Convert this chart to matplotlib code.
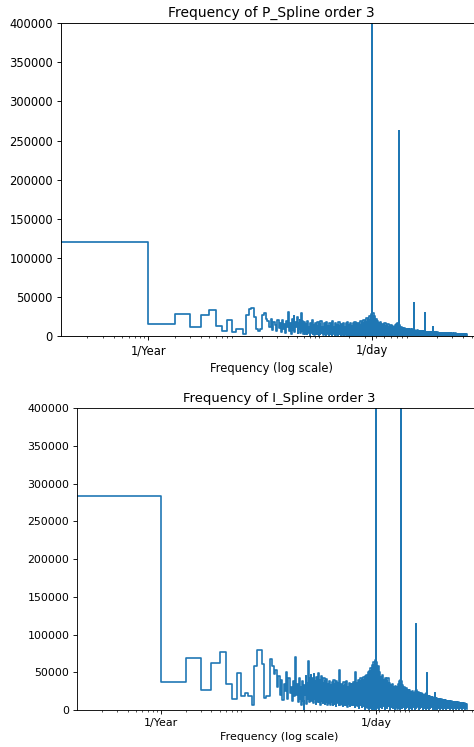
import matplotlib
matplotlib.use("Agg")
import matplotlib.pyplot as plt

# low frequency bins (cycles per year), one value per FFT bin
low_freq = list(range(0, 62))

p_low = [120000, 120000, 15000, 28000, 11000, 27000, 33500, 12800, 6000, 21000,
         4700, 9000, 9000, 2500, 27000, 34500, 36000, 24700, 9000, 7000,
         9000, 27000, 29000, 22000, 19000, 12000, 22000, 8000, 18000, 14000,
         6000, 20000, 10000, 16000, 5500, 21000, 9000, 15000, 4000, 19000,
         11000, 31000, 7000, 17000, 3000, 22000, 8000, 25000, 5000, 18000,
         12000, 24000, 3500, 16000, 9000, 21000, 4000, 30000, 6000, 19000,
         3000, 17000]

i_low = [284000, 284000, 37500, 68500, 26500, 63000, 76500, 35000, 14000, 48600,
         18500, 22000, 18000, 6600, 58000, 79000, 80000, 61000, 15500, 18500,
         18500, 67000, 58000, 48000, 53000, 30000, 45000, 20000, 40000, 13000,
         35000, 25000, 50000, 15000, 42000, 22000, 30000, 12000, 38000, 18000,
         45000, 70700, 20000, 35000, 10000, 42000, 15000, 30000, 6000, 38000,
         12000, 0, 33000, 20000, 45000, 8000, 36000, 15000, 65000, 10000,
         42000, 14000]

# dense part: picked bins, with the peak value at the bin and the dip right after it
band_freq = [62, 65, 67, 70, 73, 76, 79, 82, 85, 89,
             92, 96, 100, 104, 108, 112, 117, 122, 126, 131,
             137, 142, 148, 154, 160, 166, 173, 180, 187, 194,
             202, 210, 219, 227, 236, 246, 256, 266, 277, 288,
             299, 311, 324, 337, 350, 363, 365, 379, 394, 410,
             426, 443, 461, 479, 498, 518, 539, 561, 583, 606,
             630, 656, 682, 706, 728, 730, 750, 767, 798, 830,
             863, 898, 934, 971, 1010, 1050, 1093, 1095, 1136, 1181,
             1228, 1277, 1328, 1381, 1420, 1459, 1461, 1494, 1553, 1616,
             1680, 1747, 1790, 1824, 1826, 1890, 1966, 2044, 2126, 2211,
             2299, 2391, 2487, 2586, 2690, 2797, 2909, 3026, 3147, 3272,
             3403, 3539, 3681, 3828, 3981, 4140, 4306, 4378]

p_hi = [18000, 15000, 19000, 12000, 17000, 20000, 14000, 16000, 13000, 18000,
        15000, 19000, 12000, 16000, 14000, 18000, 13000, 17000, 15000, 19000,
        12000, 16000, 14000, 18000, 13000, 15000, 17000, 12000, 16000, 18000,
        14000, 17000, 13000, 16000, 18000, 15000, 17000, 14000, 19000, 17000,
        20000, 18000, 23000, 21000, 26000, 28000, 650000, 30000, 26000, 22000,
        19000, 16000, 18000, 15000, 14000, 16000, 13000, 15000, 12000, 14000,
        13000, 12000, 14000, 15000, 16000, 262000, 14000, 12000, 11000, 10000,
        10500, 9000, 9500, 8500, 9000, 8000, 8500, 42000, 7500, 7000,
        7200, 6500, 6800, 6000, 6200, 6000, 29000, 5500, 5200, 5500,
        5000, 4800, 5200, 4800, 12000, 4800, 4500, 4600, 4300, 4400,
        4000, 4200, 3800, 3900, 3500, 3700, 3300, 3500, 3100, 3200,
        2900, 3000, 2700, 2800, 2500, 2600, 2400, 2200]

p_lo = [3000, 2500, 4000, 1500, 3500, 2000, 1000, 3000, 2500, 1500,
        2000, 3500, 1000, 2500, 1500, 3000, 800, 2000, 1200, 2500,
        1000, 1500, 600, 2000, 900, 1200, 500, 1500, 800, 1000,
        400, 900, 600, 300, 800, 500, 200, 700, 400, 300,
        200, 500, 100, 300, 0, 200, 500, 300, 100, 600,
        200, 800, 400, 100, 1000, 300, 600, 200, 700, 400,
        100, 500, 300, 200, 800, 600, 300, 100, 500, 200,
        400, 100, 300, 200, 500, 100, 300, 200, 100, 400,
        200, 300, 100, 200, 400, 300, 100, 200, 300, 100,
        200, 100, 300, 200, 100, 200, 300, 100, 200, 100,
        300, 100, 200, 100, 200, 300, 100, 200, 100, 200,
        100, 200, 300, 100, 200, 100, 200, 100]

i_hi = [46000, 42000, 48000, 38000, 44000, 49000, 40000, 45000, 36000, 43000,
        38000, 41000, 35000, 39000, 33000, 37000, 40000, 34000, 38000, 36000,
        53000, 35000, 32000, 37000, 33000, 38000, 31000, 36000, 34000, 35000,
        37000, 51000, 36000, 40000, 38000, 42000, 40000, 44000, 45000, 47000,
        50000, 52000, 56000, 60000, 64000, 66000, 900000, 64000, 58000, 50000,
        44000, 46000, 40000, 42000, 38000, 42000, 36000, 33000, 35000, 30000,
        32000, 30000, 35000, 38000, 40000, 900000, 38000, 33000, 30000, 28000,
        29000, 26000, 27000, 24000, 25000, 23000, 25000, 114000, 26000, 24000,
        23000, 22000, 21000, 20000, 21000, 22000, 48600, 20000, 19000, 18000,
        17500, 17000, 16500, 16000, 22000, 16000, 15500, 15000, 14500, 14000,
        13500, 13000, 12800, 12500, 12200, 12000, 11500, 11000, 10800, 10500,
        10200, 10000, 9800, 9700, 9400, 9000, 8600, 8000]

i_lo = [12000, 9000, 14000, 8000, 11000, 10000, 7000, 12000, 9000, 8000,
        10000, 6000, 9000, 7000, 11000, 6600, 8000, 5000, 9000, 7000,
        6000, 8000, 5000, 7000, 6600, 4000, 8000, 5000, 6000, 7000,
        4000, 6000, 5000, 3000, 6000, 4000, 5000, 2000, 4000, 3000,
        2000, 3000, 1000, 2000, 0, 2000, 4000, 3000, 2000, 4000,
        3000, 5000, 2000, 4000, 3000, 5000, 2000, 4000, 3000, 2000,
        4000, 2000, 3000, 1000, 3000, 5000, 3000, 4000, 2000, 3000,
        4000, 2000, 3000, 2000, 4000, 2000, 3000, 3000, 4000, 2000,
        3000, 4000, 2000, 3000, 2000, 3000, 4000, 3000, 2000, 3000,
        4000, 2000, 3000, 2000, 3000, 3000, 2000, 3000, 2000, 3000,
        2000, 3000, 2000, 2500, 3000, 2000, 2500, 2000, 3000, 2000,
        2500, 2000, 3000, 2000, 2500, 2000, 2500, 2000]


def build_series(low_amp, hi, lo):
    freq = list(low_freq)
    amp = list(low_amp)
    for k, h, l in zip(band_freq, hi, lo):
        freq += [k, k + 1]
        amp += [h, l]
    return freq, amp


def plot_spectrum(ax, freq, amp, title, scale):
    ax.step(freq, amp, color="#1f77b4", linewidth=1.5 * scale)
    ax.set_xscale("log")
    ax.set_ylim(0, 400000)
    ax.set_xlim([0.1, max(ax.get_xlim())])
    ax.set_xticks([1, 365.2524])
    ax.set_xticklabels(["1/Year", "1/day"])
    ax.set_xlabel("Frequency (log scale)", fontsize=10 * scale, labelpad=4 * scale)
    ax.set_title(title, fontsize=12 * scale, pad=6 * scale)
    ax.tick_params(which="major", labelsize=10 * scale, length=3.5 * scale,
                   width=0.8 * scale, pad=3.5 * scale)
    ax.tick_params(which="minor", length=2 * scale, width=0.6 * scale)
    for s in ax.spines.values():
        s.set_linewidth(0.8 * scale)


fig = plt.figure(figsize=(4.74, 7.47), dpi=100)

ax1 = fig.add_axes([0.1287, 0.5502, 0.8892, 0.4186])
f, a = build_series(p_low, p_hi, p_lo)
plot_spectrum(ax1, f, a, "Frequency of P_Spline order 3", 0.83)

ax2 = fig.add_axes([0.1624, 0.0495, 0.8544, 0.4039])
f, a = build_series(i_low, i_hi, i_lo)
plot_spectrum(ax2, f, a, "Frequency of I_Spline order 3", 0.79)

fig.savefig("out.png", dpi=100)
